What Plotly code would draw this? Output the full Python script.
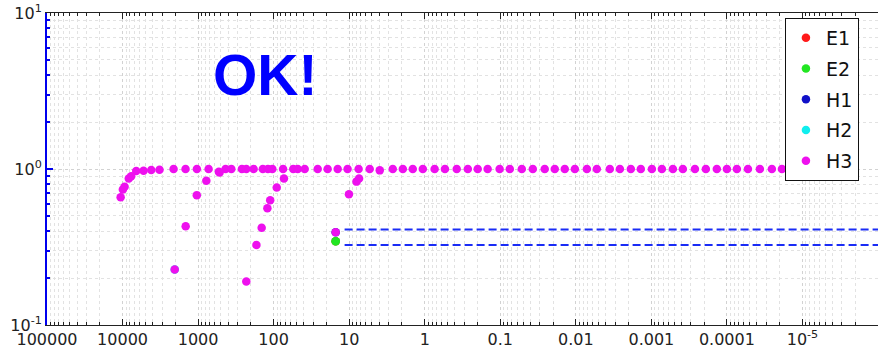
import plotly.graph_objects as go

# ---- data ----
# H3: plateau points (y ~ 1)
h3_plateau_x = [6590, 5270, 4170, 3240, 2110, 1466, 1038, 726, 531, 433, 363, 263, 230, 184,
                139, 119, 104, 75, 55, 48, 38.8, 26.1, 19.3, 14.2, 10.5, 7.5, 5.35, 3.94,
                2.65, 1.95, 1.44, 1.06, 0.74, 0.54, 0.377, 0.269, 0.199, 0.147, 0.102,
                0.0748, 0.0519, 0.0371, 0.0258, 0.019, 0.014, 0.0103, 0.00714, 0.00527,
                0.00355, 0.00261, 0.00187, 0.00138, 0.000985, 0.000726, 0.000519, 0.000383,
                0.000265, 0.00019, 0.000136, 0.0001, 7.38e-5, 5.27e-5, 3.66e-5, 2.54e-5,
                1.87e-5, 1.35e-5, 1.0e-5, 7.2e-6, 5.2e-6, 3.7e-6, 2.7e-6]
h3_plateau_y = [0.97, 0.975, 0.985, 0.99, 1.0, 1.0, 1.0, 1.0, 0.96, 1.0, 1.0, 1.0, 1.0, 1.0,
                1.0, 1.0, 1.0, 1.0, 1.0, 1.0, 1.0, 1.0, 1.0, 1.0, 1.0, 1.0, 1.0, 0.98,
                1.0, 1.0, 1.0, 1.0, 1.0, 1.0, 1.0, 1.0, 1.0, 1.0, 1.0,
                1.0, 1.0, 1.0, 1.0, 1.0, 1.0, 1.0, 1.0, 1.0,
                1.0, 1.0, 1.0, 1.0, 1.0, 1.0, 1.0, 1.0,
                1.0, 1.0, 1.0, 1.0, 1.0, 1.0, 1.0, 1.0,
                1.0, 1.0, 1.0, 1.0, 1.0, 1.0, 1.0]
# H3: rising branches
h3_branch_x = [10600, 9900, 9400, 8270, 7680,
               2040, 1460, 1040, 778, 519,
               230, 169, 144, 121, 111, 91, 73,
               15.1, 10.07, 8.0, 7.4]
h3_branch_y = [0.66, 0.74, 0.77, 0.87, 0.90,
               0.227, 0.43, 0.68, 0.84, 0.95,
               0.19, 0.326, 0.42, 0.56, 0.63, 0.76, 0.87,
               0.393, 0.69, 0.83, 0.87]

e1_x, e1_y = [15.1], [0.344]
e2_x, e2_y = [15.1], [0.344]
h1_x, h1_y = [15.1], [0.393]
h2_x, h2_y = [2040], [0.227]

# dashed limit lines
lim_upper_x, lim_upper_y = [11.5, 1e-6], [0.41, 0.41]
lim_lower_x, lim_lower_y = [11.5, 1e-6], [0.326, 0.326]

x_tickvals = [1e5, 1e4, 1e3, 1e2, 1e1, 1, 0.1, 0.01, 0.001, 0.0001, 1e-5]
x_ticktext = ["100000", "10000", "1000", "100", "10", "1", "0.1", "0.01", "0.001", "0.0001",
              "10<sup>-5</sup>"]
y_tickvals = [0.1, 1, 10]
y_ticktext = ["10<sup>-1</sup>", "10<sup>0</sup>", "10<sup>1</sup>"]

FONT = "DejaVu Sans"
MS = 8.5

fig = go.Figure()

for x, y in [(lim_upper_x, lim_upper_y), (lim_lower_x, lim_lower_y)]:
    fig.add_trace(go.Scatter(x=x, y=y, mode="lines", showlegend=False, hoverinfo="skip",
                             line=dict(color="#1a2cf5", width=2, dash="8px,4px")))

series = [("E1", e1_x, e1_y, "#ff1a1a"),
          ("E2", e2_x, e2_y, "#22e622"),
          ("H1", h1_x, h1_y, "#1010c8"),
          ("H2", h2_x, h2_y, "#10eeee")]
for name, x, y, c in series:
    fig.add_trace(go.Scatter(x=x, y=y, mode="markers", name=name, legendgroup=name,
                             marker=dict(color=c, size=MS)))

fig.add_trace(go.Scatter(x=h3_plateau_x + h3_branch_x, y=h3_plateau_y + h3_branch_y,
                         mode="markers", name="H3", legendgroup="H3",
                         marker=dict(color="#ee10ee", size=MS)))
# keep E2 visible on top (as in reference)
fig.add_trace(go.Scatter(x=e2_x, y=e2_y, mode="markers", showlegend=False,
                         marker=dict(color="#22e622", size=MS)))

grid_color = "#d2d2d2"
fig.update_xaxes(type="log", range=[5, -6], tickmode="array", tickvals=x_tickvals,
                 ticktext=x_ticktext, ticks="inside", ticklen=6, tickcolor="#222",
                 showline=True, linecolor="#222", linewidth=1, mirror="ticks",
                 showgrid=True, gridcolor=grid_color, griddash="dot", gridwidth=1,
                 zeroline=False, automargin=False,
                 tickfont=dict(family=FONT, size=16, color="#222"),
                 minor=dict(dtick="D1", ticks="inside", ticklen=3, tickcolor="#222",
                            showgrid=True, gridcolor="#e2e2e2", griddash="dot"))
fig.update_yaxes(type="log", range=[-1, 1], tickmode="array", tickvals=y_tickvals,
                 ticktext=y_ticktext, ticks="inside", ticklen=6, tickcolor="#0000ee",
                 tickwidth=2,
                 showline=True, linecolor="#0000ee", linewidth=2,
                 showgrid=True, gridcolor=grid_color, griddash="dot", gridwidth=1,
                 zeroline=False, automargin=False,
                 tickfont=dict(family=FONT, size=16, color="#222"),
                 minor=dict(dtick="D1", ticks="inside", ticklen=3, tickcolor="#0000ee",
                            showgrid=True, gridcolor="#e2e2e2", griddash="dot"))

fig.update_layout(
    width=879, height=347,
    margin=dict(l=47, r=1, t=13, b=22),
    paper_bgcolor="white", plot_bgcolor="white",
    showlegend=True,
    yaxis2=dict(type="log", range=[-1, 1], overlaying="y", side="right",
                showline=True, linecolor="#222", linewidth=1, ticks="inside",
                ticklen=6, tickcolor="#222", tickmode="array", tickvals=y_tickvals,
                showticklabels=False, showgrid=False, zeroline=False, automargin=False,
                minor=dict(dtick="D1", ticks="inside", ticklen=3, tickcolor="#222",
                           showgrid=False)),
    legend=dict(x=0.888, y=0.984, xanchor="left", yanchor="top",
                bgcolor="white", bordercolor="#111", borderwidth=1,
                font=dict(family=FONT, size=19, color="#111"),
                traceorder="grouped", tracegroupgap=3, itemsizing="trace"),
    annotations=[dict(text="<b>OK!</b>", x=0.262, y=0.80, xref="paper", yref="paper",
                      showarrow=False, xanchor="center", yanchor="middle",
                      font=dict(family="Liberation Sans", size=57, color="#0000ff"))],
)

fig.write_html("out.html", config={"displayModeBar": False},
               post_script="document.body.style.margin='0';document.body.style.overflow='hidden';")
